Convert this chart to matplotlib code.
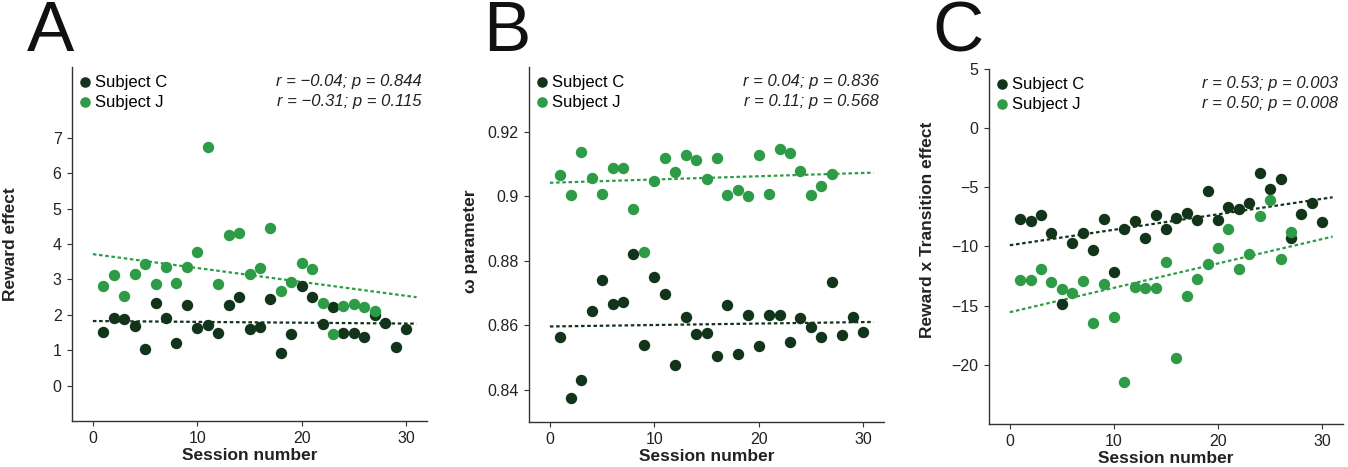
import matplotlib
matplotlib.use("Agg")
import matplotlib.pyplot as plt
import numpy as np
from matplotlib.lines import Line2D

plt.rcParams.update({
    "font.family": ["Liberation Sans", "DejaVu Sans"],
    "axes.spines.top": False, "axes.spines.right": False,
})
DARK, LIGHT = "#11341b", "#2e9c46"
INK = "#222222"

# --- data: per-session estimates for the two subjects ------------------------
sess_c = np.arange(1, 31)
sess_j = np.arange(1, 28)

reward_c = [1.52, 1.92, 1.89, 1.69, 1.03, 2.34, 1.91, 1.20, 2.27, 1.63,
            1.72, 1.50, 2.29, 2.50, 1.59, 1.66, 2.46, 0.92, 1.46, 2.82,
            2.50, 1.74, 2.23, 1.48, 1.50, 1.38, 1.99, 1.78, 1.10, 1.60]
reward_j = [2.82, 3.13, 2.52, 3.15, 3.43, 2.88, 3.35, 2.90, 3.35, 3.77,
            6.74, 2.88, 4.26, 4.31, 3.14, 3.33, 4.46, 2.67, 2.93, 3.46,
            3.29, 2.32, 1.46, 2.26, 2.31, 2.22, 2.10]

omega_c = [0.8562, 0.8374, 0.8430, 0.8645, 0.8741, 0.8666, 0.8672, 0.8822, 0.8538, 0.8749,
           0.8697, 0.8476, 0.8625, 0.8572, 0.8575, 0.8503, 0.8664, 0.8511, 0.8631, 0.8535,
           0.8633, 0.8631, 0.8549, 0.8623, 0.8594, 0.8562, 0.8734, 0.8571, 0.8626, 0.8580]
omega_j = [0.9066, 0.9004, 0.9138, 0.9055, 0.9005, 0.9086, 0.9086, 0.8960, 0.8826, 0.9047,
           0.9118, 0.9075, 0.9127, 0.9112, 0.9054, 0.9118, 0.9003, 0.9020, 0.8999, 0.9127,
           0.9007, 0.9147, 0.9134, 0.9078, 0.9004, 0.9031, 0.9070]

rxt_c = [-7.70, -7.81, -7.36, -8.85, -14.85, -9.70, -8.85, -10.26, -7.70, -12.14,
         -8.49, -7.81, -9.31, -7.36, -8.54, -7.61, -7.16, -7.78, -5.30, -7.76,
         -6.63, -6.82, -6.29, -3.75, -5.10, -4.29, -9.25, -7.28, -6.29, -7.95]
rxt_j = [-12.80, -12.80, -11.86, -12.97, -13.56, -13.93, -12.94, -16.47, -13.16, -15.96,
         -21.47, -13.45, -13.53, -13.50, -11.30, -19.44, -14.18, -12.74, -11.47, -10.10,
         -8.49, -11.92, -10.65, -7.44, -6.06, -11.02, -8.80]

stats_a = ["r = \u22120.04; p = 0.844", "r = \u22120.31; p = 0.115"]
stats_b = ["r = 0.04; p = 0.836", "r = 0.11; p = 0.568"]
stats_c = ["r = 0.53; p = 0.003", "r = 0.50; p = 0.008"]

W, H = 1348, 467
fig = plt.figure(figsize=(W / 100, H / 100), dpi=100)


def px_axes(l, t, r, b):
    return fig.add_axes([l / W, 1 - b / H, (r - l) / W, (b - t) / H])


def fit_line(ax, x, y, color):
    k, c = np.polyfit(x, y, 1)
    xx = np.array([0, 31])
    ax.plot(xx, k * xx + c, color=color, lw=1.6, ls=(0, (1.6, 1.2)), zorder=2)


def panel(ax, yc, yj, stats, ylim, yticks, ylabel, ylab_xy, letter, letter_x, fmt=None):
    fit_line(ax, sess_c, yc, DARK)
    fit_line(ax, sess_j, yj, LIGHT)
    ax.plot(sess_c, yc, "o", ms=8.2, color=DARK, mec="none", zorder=3)
    ax.plot(sess_j, yj, "o", ms=8.2, color=LIGHT, mec="none", zorder=4)
    ax.set_xlim(-2, 32)
    ax.set_ylim(*ylim)
    ax.set_xticks([0, 10, 20, 30])
    ax.set_yticks(yticks)
    if fmt:
        ax.set_yticklabels([fmt(v) for v in yticks])
    for s in ("left", "bottom"):
        ax.spines[s].set_color("#333333")
        ax.spines[s].set_linewidth(1.0)
    ax.tick_params(length=3.5, width=0.8, color="#333333", labelsize=11.5,
                   labelcolor=INK, pad=4)
    ax.set_xlabel("Session number", fontsize=12.5, fontweight="bold", color=INK,
                  labelpad=1)
    ax.set_ylabel(ylabel, fontsize=12.5, fontweight="bold", color=INK)
    ax.yaxis.set_label_coords(ylab_xy[0] / W, 1 - ylab_xy[1] / H, transform=fig.transFigure)

    handles = [Line2D([], [], marker="o", ls="none", ms=7.6, color=DARK, mec="none"),
               Line2D([], [], marker="o", ls="none", ms=7.6, color=LIGHT, mec="none")]
    ax.legend(handles, ["Subject C", "Subject J"], loc="upper left",
              bbox_to_anchor=(0.0, 1.0), frameon=False, fontsize=12,
              handlelength=0.6, handletextpad=0.3, borderpad=0.2,
              labelspacing=0.3, borderaxespad=0.3)
    ax.text(0.985, 0.958, stats[0], transform=ax.transAxes, ha="right", va="center",
            fontsize=12, style="italic", color=INK)
    ax.text(0.985, 0.902, stats[1], transform=ax.transAxes, ha="right", va="center",
            fontsize=12, style="italic", color=INK)
    fig.text(letter_x / W, 1 - 33 / H, letter, fontsize=51, ha="center", va="center",
             color="#111111")


ax_a = px_axes(72, 67, 427, 421)
panel(ax_a, reward_c, reward_j, stats_a, (-1, 9), range(0, 8), "Reward effect",
      (18, 244), "A", 50)

ax_b = px_axes(529, 67, 884, 422)
panel(ax_b, omega_c, omega_j, stats_b, (0.83, 0.94), [0.84, 0.86, 0.88, 0.9, 0.92],
      "\u03c9 parameter", (478, 241), "B", 507, fmt=lambda v: f"{v:g}")

ax_c = px_axes(989, 69, 1343, 424)
panel(ax_c, rxt_c, rxt_j, stats_c, (-25, 5), [-20, -15, -10, -5, 0, 5],
      "Reward x Transition effect", (935, 230), "C", 958)

fig.savefig("out.png", dpi=100)
